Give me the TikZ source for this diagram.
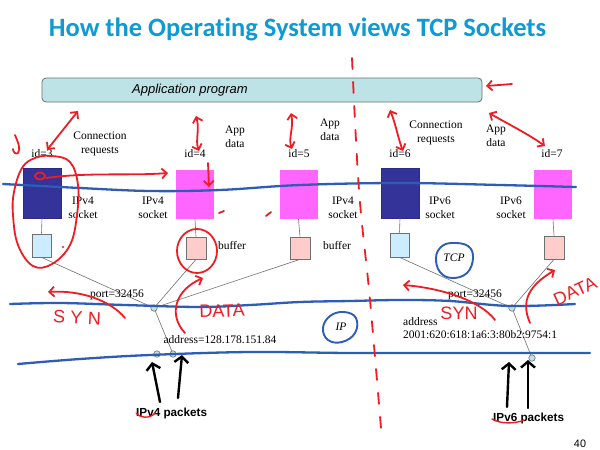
\documentclass[tikz,border=0pt]{standalone}
\usepackage{fontspec}
\setmainfont{Liberation Serif}
\newfontfamily\titlefont[Ligatures=NoCommon]{Carlito}
\newfontfamily\arialfont{Liberation Sans}
\newfontfamily\handwide[LetterSpace=30]{Liberation Sans}
\newfontfamily\handfont{Liberation Sans}
\usetikzlibrary{arrows.meta}
\definecolor{titleblue}{HTML}{0E9AD2}
\definecolor{appfill}{HTML}{BDE3E6}
\definecolor{sockdark}{HTML}{333399}
\definecolor{sockmag}{HTML}{FF66FF}
\definecolor{buflight}{HTML}{CCECFF}
\definecolor{bufpink}{HTML}{FFCCCC}
\definecolor{penblue}{HTML}{2E5DB5}
\definecolor{penred}{HTML}{EE1D23}
\definecolor{linegray}{HTML}{707070}
\begin{document}
\begin{tikzpicture}[x=1pt,y=-1pt,
  lbl/.style={font=\fontsize{11.5}{13}\selectfont, inner sep=0pt, anchor=base},
  sockbox/.style={rectangle, inner sep=0pt, minimum width=38pt, minimum height=49pt},
  darksock/.style={sockbox, fill=sockdark, draw=sockdark!85!black, line width=0.4pt},
  magsock/.style={sockbox, fill=sockmag},
  bufbox/.style={rectangle, inner sep=0pt, minimum width=19pt, minimum height=22pt, draw=linegray, line width=0.7pt},
  dot/.style={circle, inner sep=0pt, minimum size=6.5pt, fill=appfill, draw=linegray, line width=0.6pt},
  link/.style={draw=linegray, line width=0.6pt},
  bluepen/.style={draw=penblue, line width=2.3pt, line cap=round, line join=round},
  redpen/.style={draw=penred, line width=1.8pt, line cap=round, line join=round},
  redtip/.style={redpen, -{Straight Barb[length=5pt,width=10pt]}},
  redboth/.style={redpen, {Straight Barb[length=5pt,width=10pt]}-{Straight Barb[length=5pt,width=10pt]}},
  blackpen/.style={draw=black, line width=2.4pt, line cap=round, line join=round, -{Straight Barb[length=6pt,width=14pt]}},
  handtext/.style={text=penred, inner sep=0pt}]
\useasboundingbox (0,0) rectangle (600,450);
\fill[white] (0,0) rectangle (600,450);

% title
\node[font=\titlefont\bfseries\fontsize{26.5}{30}\selectfont, text=titleblue, inner sep=0pt, anchor=base] (title) at (297.5,36) {How the Operating System views TCP Sockets};

% application program
\node[draw=linegray, fill=appfill, rounded corners=4pt, line width=0.8pt, minimum width=440pt, minimum height=24pt, inner sep=0pt] (app) at (262,90) {};
\node[font=\arialfont\itshape\fontsize{13}{15}\selectfont, inner sep=0pt, anchor=base west] (apptext) at (132,93) {Application program};

% sockets
\node[darksock, minimum height=50pt] (s3) at (42,193) {};
\node[magsock] (s4) at (195,194.5) {};
\node[magsock] (s5) at (298.5,194.5) {};
\node[darksock, minimum height=50pt] (s6) at (400,193) {};
\node[magsock] (s7) at (553,194.5) {};

% buffers
\node[bufbox, fill=buflight, minimum height=23pt] (b3) at (41.5,245.5) {};
\node[bufbox, fill=bufpink, minimum width=20pt] (b4) at (196,248) {};
\node[bufbox, fill=bufpink, minimum width=20pt] (b5) at (300,248) {};
\node[bufbox, fill=buflight, minimum height=24pt] (b6) at (399.5,245) {};
\node[bufbox, fill=bufpink, minimum width=20pt, minimum height=23pt] (b7) at (554,247.5) {};

% ports and addresses
\node[dot] (p4) at (154,308) {};
\node[dot] (p6) at (512,308) {};
\node[dot] (a4a) at (157,354) {};
\node[dot] (a4b) at (173,354) {};
\node[dot] (a6) at (532,358) {};

% connectors
\draw[link] (s3.south) -- (b3.north);
\draw[link] (s4.south) -- (b4.north);
\draw[link] (s5.south) -- (b5.north);
\draw[link] (s6.south) -- (b6.north);
\draw[link] (s7.south) -- (b7.north);
\draw[link] (b3.south) -- (p4);
\draw[link] (b4.south) -- (p4);
\draw[link] (b5.south) -- (p4);
\draw[link] (p4) -- (a4b);
\draw[link] (b6.south) -- (p6);
\draw[link] (b7.south) -- (p6);
\draw[link] (p6) -- (a6);

% labels
\node[lbl] (id3) at (42,157) {id=3};
\node[lbl] (id4) at (195,157) {id=4};
\node[lbl] (id5) at (299,157) {id=5};
\node[lbl] (id6) at (400,157) {id=6};
\node[lbl] (id7) at (552,157) {id=7};
\node[lbl] (conn1a) at (100,139) {Connection};
\node[lbl] (conn1b) at (100,153) {requests};
\node[lbl] (conn2a) at (436,128) {Connection};
\node[lbl] (conn2b) at (436,142) {requests};
\node[lbl] (app1a) at (235,133) {App};
\node[lbl] (app1b) at (235,147) {data};
\node[lbl] (app2a) at (330,126) {App};
\node[lbl] (app2b) at (330,140) {data};
\node[lbl] (app3a) at (496,132) {App};
\node[lbl] (app3b) at (496,146) {data};
\node[lbl] (k3a) at (83,204) {IPv4};
\node[lbl] (k3b) at (83,218) {socket};
\node[lbl] (k4a) at (153,204) {IPv4};
\node[lbl] (k4b) at (153,218) {socket};
\node[lbl] (k5a) at (343,204) {IPv4};
\node[lbl] (k5b) at (343,218) {socket};
\node[lbl] (k6a) at (440,204) {IPv6};
\node[lbl] (k6b) at (440,218) {socket};
\node[lbl] (k7a) at (511,204) {IPv6};
\node[lbl] (k7b) at (511,218) {socket};
\node[lbl] (buf4) at (232,249) {buffer};
\node[lbl] (buf5) at (337,249) {buffer};
\node[lbl] (port4) at (117,297) {port=32456};
\node[lbl] (port6) at (475,297) {port=32456};
\node[lbl] (addr4) at (220,343) {address=128.178.151.84};
\node[lbl, anchor=base west] (addr6a) at (403,325) {address};
\node[lbl, anchor=base west] (addr6b) at (403,338) {2001:620:618:1a6:3:80b2:9754:1};
\node[lbl, font=\fontsize{11.5}{13}\selectfont\itshape] (tcp) at (454,261) {TCP};
\node[lbl, font=\fontsize{11.5}{13}\selectfont\itshape] (ip) at (341,330) {IP};
\node[font=\arialfont\bfseries\fontsize{11.7}{14}\selectfont, inner sep=0pt, anchor=base west] (pk4) at (136,416) {IPv4 packets};
\node[font=\arialfont\bfseries\fontsize{11.7}{14}\selectfont, inner sep=0pt, anchor=base west] (pk6) at (493,421) {IPv6 packets};
\node[font=\arialfont\fontsize{10.8}{13}\selectfont, inner sep=0pt, anchor=base] (page) at (580,447) {40};

% ---------- hand-drawn annotations ----------
% blue strokes
\draw[bluepen] plot[smooth, tension=0.6] coordinates {(3,184) (80,188) (150,191) (220,190) (300,185) (400,183) (500,185) (576,187)};
\draw[bluepen] plot[smooth, tension=0.6] coordinates {(10,304) (60,303) (125,305) (200,307) (250,305) (300,302) (350,301) (400,300) (450,301) (510,306) (575,304)};
\draw[bluepen] plot[smooth, tension=0.6] coordinates {(18,364) (80,359) (150,355) (250,352) (350,353) (450,353) (590,353)};
\draw[bluepen, line width=1.9pt] plot[smooth cycle, tension=0.7] coordinates {(452,243) (468,246) (473,258) (467,273) (452,278) (440,272) (436,258) (441,247)};
\draw[bluepen, line width=1.9pt] plot[smooth cycle, tension=0.7] coordinates {(344,312) (356,318) (355,333) (342,342) (328,340) (323,328) (330,316)};

% red dashed divider
\draw[redpen, dash pattern=on 11pt off 13pt] plot[smooth, tension=0.6] coordinates {(352,58) (359,190) (370,300) (382,440)};

% red arrows near application box
\draw[redboth] (47,150) -- (78,111);
\draw[redboth] (196,116) .. controls (200,130) and (195,140) .. (199,151);
\draw[redboth] (291,113) .. controls (294,128) and (288,138) .. (292,149);
\draw[redboth] (390,110) .. controls (396,125) and (398,138) .. (403,151);
\draw[redboth] (489,113) .. controls (510,125) and (528,134) .. (545,146);
\draw[redtip] (512,84) -- (486,86);

% red marks around id=3
\draw[redpen] (15,135) .. controls (18,142) and (21,149) .. (18,153) .. controls (16,155) and (13,152) .. (13,149);
\draw[redpen] plot[smooth cycle, tension=0.65] coordinates {(14,192) (22,168) (35,158) (52,156) (70,162) (78,185) (77,215) (70,245) (52,264) (33,266) (18,245) (13,215)};
\draw[redpen] (40,176) ellipse [x radius=5pt, y radius=3.5pt];
\draw[redtip] (46,178) .. controls (90,172) and (130,176) .. (168,173);
\draw[redtip] (208,163) -- (209,187);
\draw[redpen] (219,213) -- (224,211);
\draw[redpen] (266,216) -- (271,212);
\fill[penred] (63,247) circle [radius=1.2pt];
\draw[redpen] (197,251) ellipse [x radius=20pt, y radius=22pt];

% SYN / DATA
\draw[redtip] (125,318) .. controls (110,300) and (80,290) .. (48,292);
\node[handtext, font=\handwide\fontsize{18}{20}\selectfont, rotate=-3] (syn4) at (77,318) {SYN};
\draw[redtip] (185,333) .. controls (168,315) and (175,290) .. (203,278);
\node[handtext, font=\handfont\fontsize{18}{20}\selectfont, rotate=2] (data4) at (222,311) {DATA};
\draw[redtip] (495,320) .. controls (480,300) and (440,288) .. (403,285);
\node[handtext, font=\handfont\fontsize{18}{20}\selectfont] (syn6) at (459,313) {SYN};
\draw[redtip] (530,323) .. controls (520,300) and (530,285) .. (555,270);
\node[handtext, font=\handfont\fontsize{18}{20}\selectfont, rotate=25] (data6) at (575,291) {DATA};

% underlines of packet labels
\draw[redpen, line width=1.4pt] (136,413) .. controls (140,418) and (150,419) .. (155,413);
\draw[redpen, line width=1.4pt] (492,419) .. controls (500,424) and (515,424) .. (524,420);

% black arrows
\draw[blackpen] (160,402) -- (152,362);
\draw[blackpen] (178,398) -- (182,355);
\draw[blackpen] (507,407) -- (509,362);
\draw[blackpen] (528,408) -- (528,360);
\end{tikzpicture}
\end{document}
